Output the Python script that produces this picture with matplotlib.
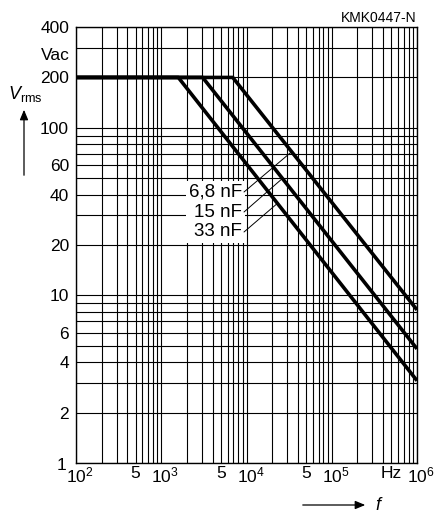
import numpy as np
import matplotlib
matplotlib.use("Agg")
import matplotlib.pyplot as plt
import matplotlib.transforms as mtransforms
from matplotlib.ticker import FixedLocator, NullFormatter

plt.rcParams['font.family'] = ['Liberation Sans', 'DejaVu Sans']
plt.rcParams['mathtext.fontset'] = 'custom'
plt.rcParams['mathtext.rm'] = 'Liberation Sans'
plt.rcParams['mathtext.it'] = 'Liberation Sans:italic'

# curves: flat at 200 V up to the knee, then falling
kapaciteti = ['6,8 nF', '15 nF', '33 nF']
f_tocke = [[1e2, 6900, 1e6], [1e2, 3060, 1e6], [1e2, 1585, 1e6]]
v_tocke = [[200, 200, 8.2], [200, 200, 4.8], [200, 200, 3.1]]

# leader line ends on the curves
f_oznake = [33800, 26500, 23150]
v_oznake = [72, 50, 35.5]

y_ticks = [2, 4, 6, 10, 20, 40, 60, 100, 200, 400]
y_tick_labels = ['2', '4', '6', '10', '20', '40', '60', '100', '200', '400']
y_grid = [1, 2, 3, 4, 5, 6, 7, 8, 9, 10, 20, 30, 40, 50, 60, 70, 80, 90, 100, 200, 300, 400]
x_ticks = [1e2, 5e2, 1e3, 5e3, 1e4, 5e4, 1e5, 5e5, 1e6]
x_tick_labels = ['$10^2$', '5', '$10^3$', '5', '$10^4$', '5', '$10^5$', 'Hz', '$10^6$']

W, H = 437, 516
fig = plt.figure(figsize=(W/100, H/100), dpi=100)
ax = fig.add_axes([76/W, 1-463/H, (417-76)/W, (463-27)/H])
ax.set_xscale('log')
ax.set_yscale('log')
ax.set_xlim(1e2, 1e6)
ax.set_ylim(1, 400)

# pixel -> data (for the annotation positions)
def px_x(px):
    return 10**(2 + (px-76)/((417-76)/4))

def px_y(py):
    return 400/10**((py-27)/((463-27)/np.log10(400)))

# grid
x_grid = []
for d in [1e2, 1e3, 1e4, 1e5]:
    for k in range(1, 10):
        x_grid.append(k*d)
x_grid.append(1e6)
for xg in x_grid:
    ax.axvline(xg, color='black', lw=0.8, zorder=1)
for yg in y_grid:
    ax.axhline(yg, color='black', lw=0.8, zorder=1)

for i in range(len(kapaciteti)):
    ax.plot(f_tocke[i], v_tocke[i], color='black', lw=2.6, zorder=3, solid_capstyle='butt')

ax.yaxis.set_major_locator(FixedLocator(y_ticks))
ax.set_yticklabels(y_tick_labels)
ax.yaxis.set_minor_formatter(NullFormatter())
ax.xaxis.set_major_locator(FixedLocator(x_ticks))
ax.set_xticklabels(x_tick_labels)
ax.xaxis.set_minor_formatter(NullFormatter())
ax.tick_params(which='both', length=0, labelsize=12.5)
ax.tick_params(axis='x', pad=2)
ax.tick_params(axis='y', pad=5)
pomak = mtransforms.ScaledTranslation(4/100, 0, fig.dpi_scale_trans)
for lab in ax.get_xticklabels():
    if lab.get_text().startswith('$'):
        lab.set_transform(lab.get_transform() + pomak)
for s in ax.spines.values():
    s.set_linewidth(1.0)

# label box with leaders
ax.text(px_x(242), px_y(212), '6,8 nF\n15 nF\n33 nF', ha='right', va='center', fontsize=13.5,
        multialignment='right', linespacing=1.22, zorder=4,
        bbox=dict(facecolor='white', edgecolor='none', pad=2))
y_txt_px = [192, 212, 232]
for i in range(len(kapaciteti)):
    ax.annotate('', xy=(f_oznake[i], v_oznake[i]), xytext=(px_x(244), px_y(y_txt_px[i])),
                arrowprops=dict(arrowstyle='-', color='black', lw=0.7,
                                shrinkA=0, shrinkB=0), zorder=4)

fig.text(417/W, 1-18/H, 'KMK0447-N', ha='right', va='center', fontsize=10)
fig.text(70/W, 1-55/H, 'Vac', ha='right', va='center', fontsize=12.5)
fig.text(66/W, 1-465/H, '1', ha='right', va='center', fontsize=12.5)
fig.text(8/W, 1-94/H, r'$V_{\mathrm{rms}}$', ha='left', va='center', fontsize=13)
fig.add_artist(matplotlib.patches.FancyArrowPatch((24/W, 1-178/H), (24/W, 1-107/H),
               transform=fig.transFigure, arrowstyle='-|>,head_length=6,head_width=2.5',
               color='black', lw=0.9))
fig.add_artist(matplotlib.patches.FancyArrowPatch((300/W, 1-505/H), (368/W, 1-505/H),
               transform=fig.transFigure, arrowstyle='-|>,head_length=6,head_width=2.5',
               color='black', lw=0.9))
fig.text(375/W, 1-506/H, '$f$', ha='left', va='center', fontsize=13)

fig.savefig('out.png', dpi=100)
